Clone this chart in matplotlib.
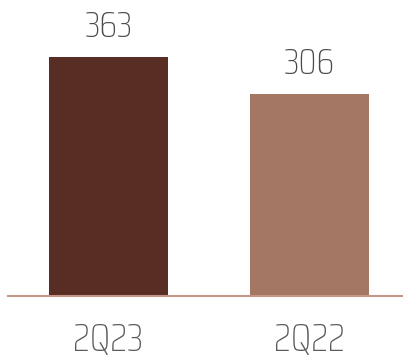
import matplotlib
matplotlib.use("Agg")
import matplotlib.pyplot as plt

categories = ["2Q23", "2Q22"]
values = [363, 306]
colors = ["#582d23", "#a47664"]

fam = ["Saira Condensed", "DejaVu Sans"]

fig = plt.figure(figsize=(4.03, 3.61), dpi=100)
ax = fig.add_axes([8/403, 65.5/361, 395/403, 295.5/361])
x = list(range(len(categories)))
bars = ax.bar(x, values, width=0.592, color=colors)
ax.set_xlim(-0.5, 1.465)
ax.set_ylim(0, 363 * 295.5 / 238.5)
for s in ["top", "left", "right"]:
    ax.spines[s].set_visible(False)
ax.spines["bottom"].set_color("#c4978a")
ax.spines["bottom"].set_linewidth(1.5)
ax.set_yticks([])
ax.set_xticks([])
for b, v, c in zip(bars, values, categories):
    cx = b.get_x() + b.get_width()/2
    ax.annotate(str(v), (cx, v), xytext=(0, 14.4), textcoords="offset points",
                ha="center", va="baseline", fontsize=26.5, weight=200,
                color="#4a4a4a", family=fam, annotation_clip=False)
    ax.annotate(c, (cx, 0), xytext=(0, -40.3), textcoords="offset points",
                ha="center", va="baseline", fontsize=28, weight=200,
                color="#5a5a5a", family=fam, annotation_clip=False)
fig.savefig("out.png", dpi=100)
